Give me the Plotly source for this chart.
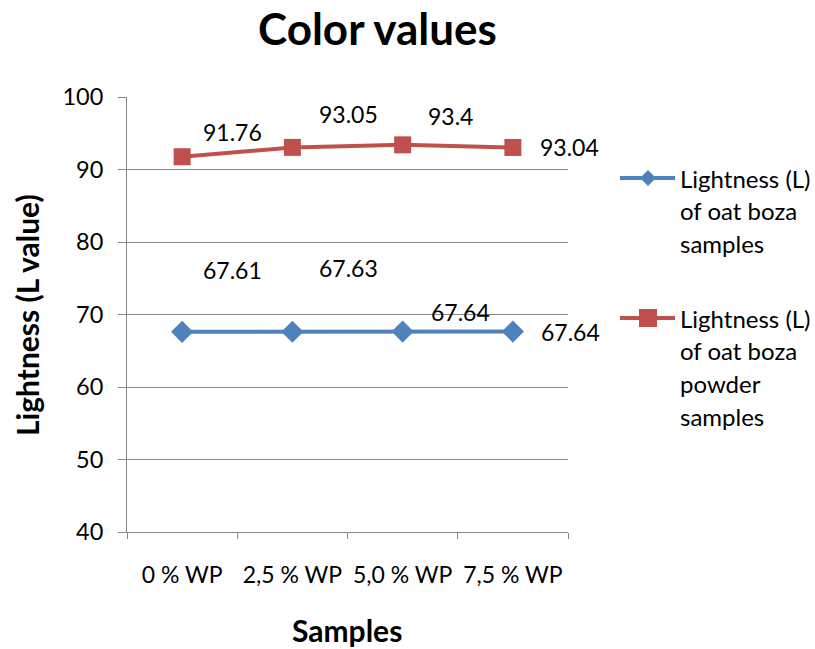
import plotly.graph_objects as go

# Sample categories and measured lightness values
samples = ["0 % WP", "2,5 % WP", "5,0 % WP", "7,5 % WP"]
boza_L = [67.61, 67.63, 67.64, 67.64]
powder_L = [91.76, 93.05, 93.4, 93.04]

BLUE = "#4F81BD"
RED = "#C0504D"
GRID = "#868686"
FONT = "Lato"
W, H = 815, 649
L, R, T, B = 127, 568, 97, 532  # plot area in pixels


def px(x):
    return (x - L) / (R - L)


def py(y):
    return (B - y) / (B - T)


fig = go.Figure()
fig.add_trace(go.Scatter(x=samples, y=boza_L, mode="lines+markers",
                         line=dict(color=BLUE, width=4),
                         marker=dict(symbol="diamond", size=17, color=BLUE),
                         showlegend=False))
fig.add_trace(go.Scatter(x=samples, y=powder_L, mode="lines+markers",
                         line=dict(color=RED, width=4),
                         marker=dict(symbol="square", size=17, color=RED),
                         showlegend=False))

# data labels: (x offset of left edge, upward offset of text centre)
boza_offsets = [(19, 62), (25, 64), (26, 20), (26, 0)]
powder_offsets = [(19, 25), (25, 33), (23, 29), (25, 0)]
for vals, offs in ((boza_L, boza_offsets), (powder_L, powder_offsets)):
    for cat, v, (dx, dy) in zip(samples, vals, offs):
        fig.add_annotation(x=cat, y=v, text=f"{v:g}", showarrow=False,
                           xanchor="left", yanchor="middle",
                           xshift=dx, yshift=dy,
                           font=dict(family=FONT, size=23, color="black"))

# legend drawn beside the plot
legend_items = [
    (BLUE, "diamond", 178, ["Lightness (L)", "of oat boza", "samples"]),
    (RED, "square", 318, ["Lightness (L)", "of oat boza", "powder", "samples"]),
]
for color, sym, yc, lines in legend_items:
    fig.add_shape(type="line", xref="paper", yref="paper",
                  x0=px(620), x1=px(675), y0=py(yc), y1=py(yc),
                  line=dict(color=color, width=4))
    cx = 648
    if sym == "diamond":
        path = (f"M {px(cx-8)} {py(yc)} L {px(cx)} {py(yc-8)} "
                f"L {px(cx+8)} {py(yc)} L {px(cx)} {py(yc+8)} Z")
        fig.add_shape(type="path", xref="paper", yref="paper", path=path,
                      fillcolor=color, line=dict(color=color, width=0))
    else:
        fig.add_shape(type="rect", xref="paper", yref="paper",
                      x0=px(cx-9), x1=px(cx+9), y0=py(yc+9), y1=py(yc-9),
                      fillcolor=color, line=dict(color=color, width=0))
    for i, t in enumerate(lines):
        fig.add_annotation(xref="paper", yref="paper", x=px(678),
                           y=py(yc + i * 32.7), text=t, showarrow=False,
                           xanchor="left", yanchor="middle",
                           font=dict(family=FONT, size=24, color="black"))

# titles
fig.add_annotation(xref="paper", yref="paper", x=px(377), y=py(28),
                   text="<b>Color values</b>", showarrow=False,
                   xanchor="center", yanchor="middle",
                   font=dict(family=FONT, size=44, color="black"))
fig.add_annotation(xref="paper", yref="paper", x=px(347), y=py(630),
                   text="<b>Samples</b>", showarrow=False,
                   xanchor="center", yanchor="middle",
                   font=dict(family=FONT, size=30, color="black"))
fig.add_annotation(xref="paper", yref="paper", x=px(27), y=py(315),
                   text="<b>Lightness (L value)</b>", showarrow=False,
                   textangle=-90, xanchor="center", yanchor="middle",
                   font=dict(family=FONT, size=30, color="black"))

fig.update_layout(
    width=W, height=H,
    margin=dict(l=L, r=W - R, t=T, b=H - B),
    paper_bgcolor="white", plot_bgcolor="white",
    font=dict(family=FONT, size=23, color="black"),
    xaxis=dict(type="category", range=[-0.5, 3.5], tickson="boundaries",
               ticks="outside", ticklen=6, tickcolor=GRID, tickwidth=1,
               showline=True, linecolor=GRID, linewidth=1, showgrid=False,
               ticklabelstandoff=22, tickfont=dict(size=23)),
    yaxis=dict(range=[40, 100], dtick=10, ticks="outside", ticklen=8,
               tickcolor=GRID, tickwidth=1, showline=True, linecolor=GRID,
               linewidth=1, showgrid=True, gridcolor=GRID, gridwidth=1,
               zeroline=False, ticklabelstandoff=10, tickfont=dict(size=23.5)),
)

fig.write_html("out.html")
